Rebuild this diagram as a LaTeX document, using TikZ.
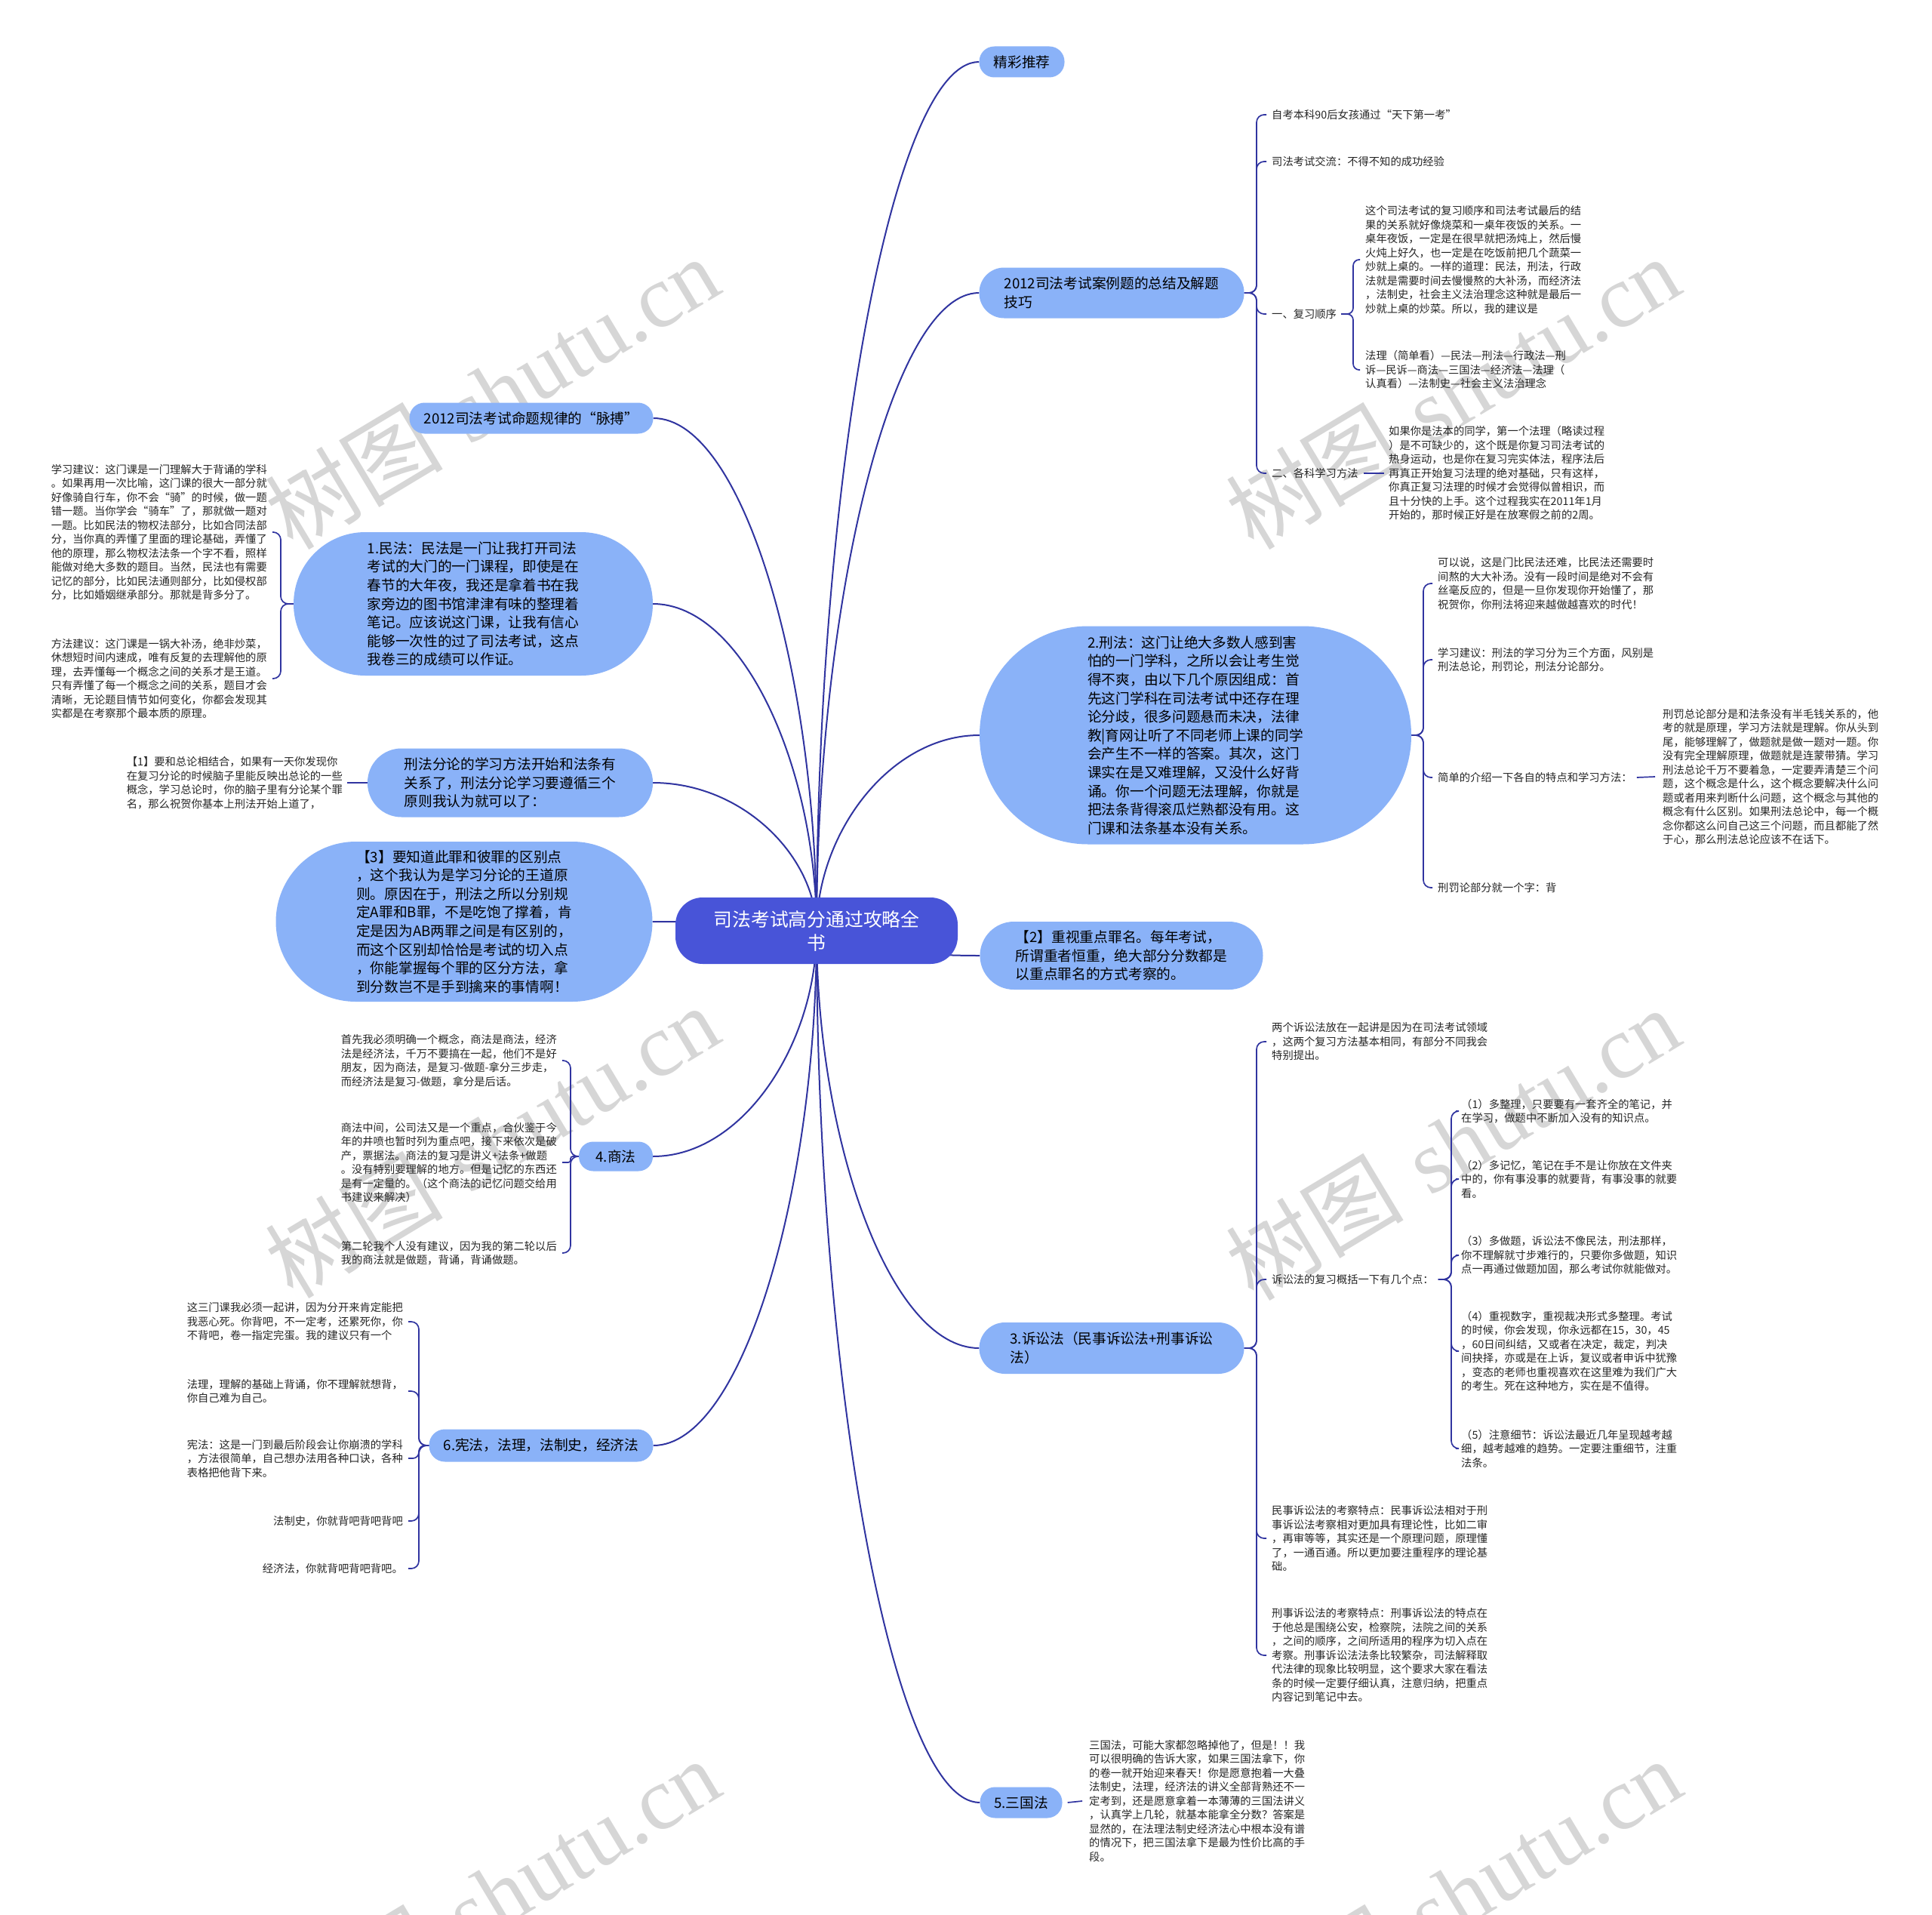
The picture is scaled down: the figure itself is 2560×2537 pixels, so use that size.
\documentclass[tikz,border=0pt]{standalone}
\usepackage{fontspec}
\setmainfont{Noto Sans CJK SC}
\newfontfamily\wmserif{Liberation Serif}
\usetikzlibrary{calc,backgrounds}
\definecolor{rootblue}{RGB}{72,84,216}
\definecolor{lblue}{RGB}{138,178,248}
\definecolor{linkc}{RGB}{48,52,160}
\definecolor{wm}{RGB}{214,214,214}
\tikzset{
  rootnode/.style={fill=rootblue, text=white, rounded corners=36pt, minimum width=374pt, minimum height=88pt, align=center, inner sep=0pt, font=\fontsize{24.8pt}{31pt}\selectfont},
  pill/.style n args={3}{fill=lblue, text=black, align=left, inner sep=0pt, minimum width=#1pt, minimum height=#2pt, rounded corners=#3pt, font=\fontsize{18.7pt}{24.6pt}\selectfont},
  leafr/.style={text=black!85, align=left, inner sep=0pt, anchor=west, font=\fontsize{14.3pt}{18.5pt}\selectfont},
  leafl/.style={text=black!85, align=left, inner sep=0pt, anchor=east, font=\fontsize{14.3pt}{18.5pt}\selectfont},
  leaflr/.style={text=black!85, align=right, inner sep=0pt, anchor=east, font=\fontsize{14.3pt}{18.5pt}\selectfont},
  mainlink/.style={draw=linkc, line width=2pt},
  link/.style={draw=linkc, line width=1.7pt},
  wmark/.style={text=wm, rotate=31, inner sep=0pt, font=\fontsize{118pt}{118pt}\selectfont},
}
\newcommand{\rlink}[1]{%
  \coordinate (rc) at (root.center |- #1);
  \draw[mainlink] (root.center) .. controls ($(root.center)!0.5!(rc)$) and ($(#1)!0.55!(rc)$) .. (#1);}
\newcommand{\branch}[4][10pt]{\draw[link, rounded corners=#1, shorten >=7pt] (#2) -- (#3) -- (#3 |- #4) -- (#4);}
\begin{document}
\begin{tikzpicture}[x=1pt,y=-1pt]
\useasboundingbox (0,0) rectangle (2560,2537);

% root
\node[rootnode] (root) at (1082,1233) {司法考试高分通过攻略全\\书};

% right level 1
\node[pill={113}{41}{20}] (N1) at (1354,82) {精彩推荐};
\node[pill={351}{67}{33}] (N2) at (1473,388) {2012司法考试案例题的总结及解题\\技巧};
\node[pill={572}{289}{144}] (N3) at (1584,974) {2.刑法：这门让绝大多数人感到害\\怕的一门学科，之所以会让考生觉\\得不爽，由以下几个原因组成：首\\先这门学科在司法考试中还存在理\\论分歧，很多问题悬而未决，法律\\教|育网让听了不同老师上课的同学\\会产生不一样的答案。其次，这门\\课实在是又难理解，又没什么好背\\诵。你一个问题无法理解，你就是\\把法条背得滚瓜烂熟都没有用。这\\门课和法条基本没有关系。};
\node[pill={375}{90}{45}] (N4) at (1486,1266) {【2】重视重点罪名。每年考试，\\所谓重者恒重，绝大部分分数都是\\以重点罪名的方式考察的。};
\node[pill={351}{68}{34}] (N5) at (1473,1786) {3.诉讼法（民事诉讼法+刑事诉讼\\法）};
\node[pill={109}{41}{20}] (N6) at (1353,2388) {5.三国法};

% left level 1
\node[pill={323}{41}{20}] (M1) at (704,554) {2012司法考试命题规律的“脉搏”};
\node[pill={476}{190}{95}] (M2) at (627,800) {1.民法：民法是一门让我打开司法\\考试的大门的一门课程，即使是在\\春节的大年夜，我还是拿着书在我\\家旁边的图书馆津津有味的整理着\\笔记。应该说这门课，让我有信心\\能够一次性的过了司法考试，这点\\我卷三的成绩可以作证。};
\node[pill={378}{91}{45}] (M3) at (676,1037) {刑法分论的学习方法开始和法条有\\关系了，刑法分论学习要遵循三个\\原则我认为就可以了：};
\node[pill={499}{212}{106}] (M4) at (615,1221) {【3】要知道此罪和彼罪的区别点\\，这个我认为是学习分论的王道原\\则。原因在于，刑法之所以分别规\\定A罪和B罪，不是吃饱了撑着，肯\\定是因为AB两罪之间是有区别的，\\而这个区别却恰恰是考试的切入点\\，你能掌握每个罪的区分方法，拿\\到分数岂不是手到擒来的事情啊！};
\node[pill={98}{39}{19}] (M5) at (816,1532) {4.商法};
\node[pill={297}{43}{21}] (M6) at (717,1915) {6.宪法，法理，法制史，经济法};

% leaves of N2
\node[leafr] (A1) at (1685,152) {自考本科90后女孩通过“天下第一考”};
\node[leafr] (A2) at (1685,214) {司法考试交流：不得不知的成功经验};
\node[leafr] (A3) at (1685,416) {一、复习顺序};
\node[leafr] (A3a) at (1809,344) {这个司法考试的复习顺序和司法考试最后的结\\果的关系就好像烧菜和一桌年夜饭的关系。一\\桌年夜饭，一定是在很早就把汤炖上，然后慢\\火炖上好久，也一定是在吃饭前把几个蔬菜一\\炒就上桌的。一样的道理：民法，刑法，行政\\法就是需要时间去慢慢熬的大补汤，而经济法\\，法制史，社会主义法治理念这种就是最后一\\炒就上桌的炒菜。所以，我的建议是};
\node[leafr] (A3b) at (1809,490) {法理（简单看）—民法—刑法—行政法—刑\\诉—民诉—商法—三国法—经济法—法理（\\认真看）—法制史—社会主义法治理念};
\node[leafr] (A4) at (1685,627) {二、各科学习方法};
\node[leafr] (A4a) at (1840,627) {如果你是法本的同学，第一个法理（略读过程\\）是不可缺少的，这个既是你复习司法考试的\\热身运动，也是你在复习完实体法，程序法后\\再真正开始复习法理的绝对基础，只有这样，\\你真正复习法理的时候才会觉得似曾相识，而\\且十分快的上手。这个过程我实在2011年1月\\开始的，那时候正好是在放寒假之前的2周。};

% leaves of N3
\node[leafr] (B1) at (1905,773) {可以说，这是门比民法还难，比民法还需要时\\间熬的大大补汤。没有一段时间是绝对不会有\\丝毫反应的，但是一旦你发现你开始懂了，那\\祝贺你，你刑法将迎来越做越喜欢的时代！};
\node[leafr] (B2) at (1905,874) {学习建议：刑法的学习分为三个方面，风别是\\刑法总论，刑罚论，刑法分论部分。};
\node[leafr] (B3) at (1905,1030) {简单的介绍一下各自的特点和学习方法：};
\node[leafr] (B3a) at (2203,1029) {刑罚总论部分是和法条没有半毛钱关系的，他\\考的就是原理，学习方法就是理解。你从头到\\尾，能够理解了，做题就是做一题对一题。你\\没有完全理解原理，做题就是连蒙带猜。学习\\刑法总论千万不要着急，一定要弄清楚三个问\\题，这个概念是什么，这个概念要解决什么问\\题或者用来判断什么问题，这个概念与其他的\\概念有什么区别。如果刑法总论中，每一个概\\念你都这么问自己这三个问题，而且都能了然\\于心，那么刑法总论应该不在话下。};
\node[leafr] (B4) at (1905,1176) {刑罚论部分就一个字：背};

% leaves of N5
\node[leafr] (C1) at (1685,1380) {两个诉讼法放在一起讲是因为在司法考试领域\\，这两个复习方法基本相同，有部分不同我会\\特别提出。};
\node[leafr] (C2) at (1685,1695) {诉讼法的复习概括一下有几个点：};
\node[leafr] (C2a) at (1936,1472) {（1）多整理，只要要有一套齐全的笔记，并\\在学习，做题中不断加入没有的知识点。};
\node[leafr] (C2b) at (1936,1562) {（2）多记忆，笔记在手不是让你放在文件夹\\中的，你有事没事的就要背，有事没事的就要\\看。};
\node[leafr] (C2c) at (1936,1663) {（3）多做题，诉讼法不像民法，刑法那样，\\你不理解就寸步难行的，只要你多做题，知识\\点一再通过做题加固，那么考试你就能做对。};
\node[leafr] (C2d) at (1936,1790) {（4）重视数字，重视裁决形式多整理。考试\\的时候，你会发现，你永远都在15，30，45\\，60日间纠结，又或者在决定，裁定，判决\\间抉择，亦或是在上诉，复议或者申诉中犹豫\\，变态的老师也重视喜欢在这里难为我们广大\\的考生。死在这种地方，实在是不值得。};
\node[leafr] (C2e) at (1936,1919) {（5）注意细节：诉讼法最近几年呈现越考越\\细，越考越难的趋势。一定要注重细节，注重\\法条。};
\node[leafr] (C3) at (1685,2038) {民事诉讼法的考察特点：民事诉讼法相对于刑\\事诉讼法考察相对更加具有理论性，比如二审\\，再审等等，其实还是一个原理问题，原理懂\\了，一通百通。所以更加要注重程序的理论基\\础。};
\node[leafr] (C4) at (1685,2193) {刑事诉讼法的考察特点：刑事诉讼法的特点在\\于他总是围绕公安，检察院，法院之间的关系\\，之间的顺序，之间所适用的程序为切入点在\\考察。刑事诉讼法法条比较繁杂，司法解释取\\代法律的现象比较明显，这个要求大家在看法\\条的时候一定要仔细认真，注意归纳，把重点\\内容记到笔记中去。};

% leaf of N6
\node[leafr] (D1) at (1443,2386) {三国法，可能大家都忽略掉他了，但是！！我\\可以很明确的告诉大家，如果三国法拿下，你\\的卷一就开始迎来春天！你是愿意抱着一大叠\\法制史，法理，经济法的讲义全部背熟还不一\\定考到，还是愿意拿着一本薄薄的三国法讲义\\，认真学上几轮，就基本能拿全分数？答案是\\显然的，在法理法制史经济法心中根本没有谱\\的情况下，把三国法拿下是最为性价比高的手\\段。};

% left leaves
\node[leafl] (G1) at (454,1037) {【1】要和总论相结合，如果有一天你发现你\\在复习分论的时候脑子里能反映出总论的一些\\概念，学习总论时，你的脑子里有分论某个罪\\名，那么祝贺你基本上刑法开始上道了，};
\node[leafl] (E1) at (354,705) {学习建议：这门课是一门理解大于背诵的学科\\。如果再用一次比喻，这门课的很大一部分就\\好像骑自行车，你不会“骑”的时候，做一题\\错一题。当你学会“骑车”了，那就做一题对\\一题。比如民法的物权法部分，比如合同法部\\分，当你真的弄懂了里面的理论基础，弄懂了\\他的原理，那么物权法法条一个字不看，照样\\能做对绝大多数的题目。当然，民法也有需要\\记忆的部分，比如民法通则部分，比如侵权部\\分，比如婚姻继承部分。那就是背多分了。};
\node[leafl] (E2) at (354,899) {方法建议：这门课是一锅大补汤，绝非炒菜，\\休想短时间内速成，唯有反复的去理解他的原\\理，去弄懂每一个概念之间的关系才是王道。\\只有弄懂了每一个概念之间的关系，题目才会\\清晰，无论题目情节如何变化，你都会发现其\\实都是在考察那个最本质的原理。};
\node[leafl] (H1) at (738,1405) {首先我必须明确一个概念，商法是商法，经济\\法是经济法，千万不要搞在一起，他们不是好\\朋友，因为商法，是复习-做题-拿分三步走，\\而经济法是复习-做题，拿分是后话。};
\node[leafl] (H2) at (738,1540) {商法中间，公司法又是一个重点，合伙鉴于今\\年的井喷也暂时列为重点吧，接下来依次是破\\产，票据法。商法的复习是讲义+法条+做题\\。没有特别要理解的地方。但是记忆的东西还\\是有一定量的。（这个商法的记忆问题交给用\\书建议来解决）};
\node[leafl] (H3) at (738,1660) {第二轮我个人没有建议，因为我的第二轮以后\\我的商法就是做题，背诵，背诵做题。};
\node[leafl] (F1) at (534,1751) {这三门课我必须一起讲，因为分开来肯定能把\\我恶心死。你背吧，不一定考，还累死你，你\\不背吧，卷一指定完蛋。我的建议只有一个};
\node[leafl] (F2) at (534,1843) {法理，理解的基础上背诵，你不理解就想背，\\你自己难为自己。};
\node[leafl] (F3) at (534,1932) {宪法：这是一门到最后阶段会让你崩溃的学科\\，方法很简单，自己想办法用各种口诀，各种\\表格把他背下来。};
\node[leaflr] (F4) at (534,2015) {法制史，你就背吧背吧背吧};
\node[leaflr] (F5) at (534,2078) {经济法，你就背吧背吧背吧。};

% spine points
\coordinate (sN2) at (1665,388);
\coordinate (sA3) at (1793,416);
\coordinate (sN3) at (1886,974);
\coordinate (sN5) at (1665,1786);
\coordinate (sC2) at (1923,1695);
\coordinate (sM2) at (372,800);
\coordinate (sM5) at (756,1532);
\coordinate (sM6) at (555,1915);

\begin{scope}[on background layer]
\fill[white] (0,0) rectangle (2560,2537);
% watermarks
\foreach \wx/\wy/\wn in {652/520/1,1925/520/2,652/1512/3,1925/1515/4,653/2510/5,1927/2510/6}{
  \node[wmark] (wm\wn) at (\wx,\wy) {树图\hspace{0.3em}{\wmserif shutu.cn}};
}
% root links
\rlink{N1.west}
\rlink{N2.west}
\rlink{N3.west}
\rlink{N4.west}
\rlink{N5.west}
\rlink{N6.west}
\rlink{M1.east}
\rlink{M2.east}
\rlink{M3.east}
\rlink{M4.east}
\rlink{M5.east}
\rlink{M6.east}
% N2 branches
\branch{N2.east}{sN2}{A1.west}
\branch{N2.east}{sN2}{A2.west}
\branch{N2.east}{sN2}{A3.west}
\branch{N2.east}{sN2}{A4.west}
\branch[8pt]{[xshift=6pt]A3.east}{sA3}{A3a.west}
\branch[8pt]{[xshift=6pt]A3.east}{sA3}{A3b.west}
\draw[link] ([xshift=7pt]A4.east) -- ([xshift=-6pt]A4a.west);
% N3 branches
\branch{N3.east}{sN3}{B1.west}
\branch{N3.east}{sN3}{B2.west}
\branch{N3.east}{sN3}{B3.west}
\branch{N3.east}{sN3}{B4.west}
\draw[link] ([xshift=6pt]B3.east) -- ([xshift=-10pt]B3a.west);
% N5 branches
\branch{N5.east}{sN5}{C1.west}
\branch{N5.east}{sN5}{C2.west}
\branch{N5.east}{sN5}{C3.west}
\branch{N5.east}{sN5}{C4.west}
\branch{[xshift=6pt]C2.east}{sC2}{C2a.west}
\branch{[xshift=6pt]C2.east}{sC2}{C2b.west}
\branch{[xshift=6pt]C2.east}{sC2}{C2c.west}
\branch{[xshift=6pt]C2.east}{sC2}{C2d.west}
\branch{[xshift=6pt]C2.east}{sC2}{C2e.west}
% N6
\draw[link] ([xshift=7pt]N6.east) -- ([xshift=-9pt]D1.west);
% left
\draw[link] (M3.west) -- ([xshift=6pt]G1.east);
\branch{M2.west}{sM2}{E1.east}
\branch{M2.west}{sM2}{E2.east}
\branch{M5.west}{sM5}{H1.east}
\branch[3pt]{M5.west}{sM5}{H2.east}
\branch{M5.west}{sM5}{H3.east}
\branch{M6.west}{sM6}{F1.east}
\branch{M6.west}{sM6}{F2.east}
\branch[8pt]{M6.west}{sM6}{F3.east}
\branch{M6.west}{sM6}{F4.east}
\branch{M6.west}{sM6}{F5.east}
\end{scope}
\end{tikzpicture}
\end{document}
